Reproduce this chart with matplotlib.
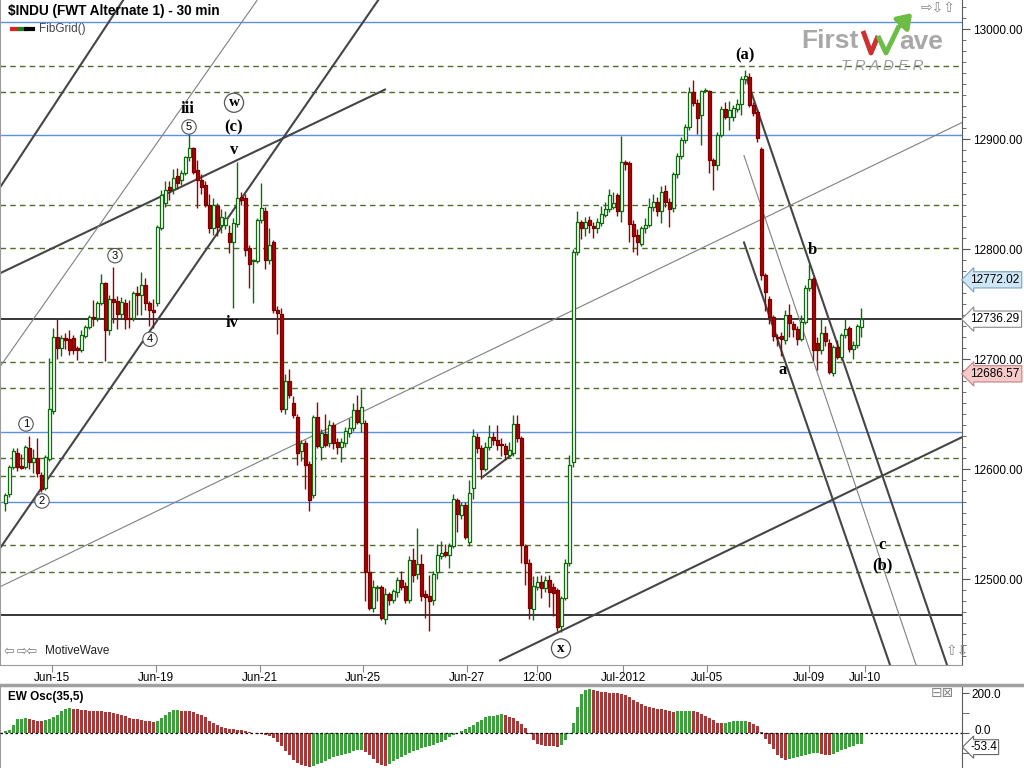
import matplotlib
matplotlib.use("Agg")
import matplotlib.pyplot as plt
from matplotlib.collections import LineCollection, PatchCollection
from matplotlib.patches import Rectangle
from matplotlib.ticker import MultipleLocator

# ---------------- data ----------------
opens = [12569, 12577, 12602, 12615, 12603, 12602, 12619, 12606, 12610, 12595,
         12583, 12609, 12653, 12720, 12710, 12719, 12718, 12719, 12710, 12708,
         12721, 12729, 12738, 12737, 12751, 12769, 12726, 12755, 12753, 12741,
         12751, 12737, 12737, 12760, 12758, 12767, 12751, 12745, 12751, 12819,
         12842, 12856, 12855, 12866, 12863, 12869, 12884, 12892, 12872, 12863,
         12858, 12840, 12819, 12839, 12822, 12822, 12815, 12806, 12823, 12847,
         12846, 12801, 12789, 12789, 12826, 12835, 12790, 12806, 12745, 12741,
         12655, 12680, 12660, 12647, 12616, 12624, 12605, 12576, 12647, 12620,
         12632, 12624, 12640, 12625, 12620, 12624, 12633, 12637, 12654, 12642,
         12642, 12506, 12474, 12492, 12493, 12464, 12486, 12481, 12488, 12499,
         12494, 12481, 12517, 12505, 12514, 12486, 12485, 12481, 12506, 12521,
         12525, 12522, 12530, 12572, 12558, 12567, 12534, 12583, 12629, 12619,
         12600, 12620, 12629, 12626, 12623, 12621, 12613, 12615, 12641, 12628,
         12530, 12515, 12473, 12493, 12497, 12492, 12499, 12493, 12490, 12457,
         12483, 12515, 12606, 12797, 12825, 12819, 12826, 12821, 12819, 12824,
         12831, 12836, 12838, 12849, 12835, 12879, 12878, 12823, 12813, 12805,
         12819, 12822, 12838, 12843, 12835, 12853, 12843, 12837, 12868, 12885,
         12899, 12911, 12943, 12933, 12922, 12944, 12944, 12881, 12876, 12904,
         12927, 12920, 12920, 12927, 12932, 12955, 12956, 12931, 12925, 12891,
         12776, 12755, 12738, 12720, 12721, 12717, 12740, 12732, 12727, 12718,
         12734, 12765, 12773, 12715, 12708, 12724, 12715, 12687, 12711, 12702,
         12722, 12728, 12709, 12713, 12729]
highs = [12578, 12604, 12619, 12619, 12614, 12622, 12630, 12618, 12628, 12597,
         12613, 12701, 12728, 12736, 12722, 12724, 12726, 12722, 12712, 12726,
         12731, 12740, 12754, 12753, 12777, 12770, 12758, 12784, 12757, 12756,
         12755, 12754, 12762, 12766, 12779, 12774, 12753, 12755, 12822, 12854,
         12862, 12862, 12873, 12874, 12872, 12885, 12905, 12893, 12881, 12868,
         12862, 12850, 12846, 12842, 12836, 12835, 12822, 12828, 12879, 12852,
         12850, 12804, 12791, 12828, 12860, 12838, 12819, 12808, 12748, 12746,
         12686, 12691, 12666, 12650, 12626, 12626, 12607, 12649, 12661, 12636,
         12650, 12645, 12643, 12628, 12628, 12638, 12646, 12660, 12667, 12673,
         12645, 12523, 12499, 12495, 12495, 12492, 12488, 12491, 12502, 12507,
         12497, 12521, 12528, 12546, 12523, 12490, 12504, 12507, 12532, 12535,
         12532, 12533, 12577, 12574, 12570, 12570, 12590, 12636, 12633, 12622,
         12625, 12640, 12634, 12640, 12628, 12624, 12625, 12649, 12649, 12630,
         12532, 12518, 12503, 12503, 12504, 12503, 12504, 12496, 12492, 12485,
         12518, 12613, 12800, 12835, 12826, 12829, 12830, 12825, 12828, 12839,
         12843, 12855, 12852, 12851, 12903, 12881, 12880, 12826, 12818, 12821,
         12828, 12846, 12850, 12847, 12857, 12858, 12846, 12870, 12887, 12902,
         12914, 12947, 12954, 12936, 12945, 12946, 12945, 12883, 12906, 12930,
         12934, 12935, 12931, 12936, 12957, 12963, 12960, 12934, 12927, 12893,
         12778, 12757, 12740, 12723, 12725, 12745, 12750, 12735, 12730, 12740,
         12767, 12786, 12775, 12720, 12737, 12730, 12718, 12713, 12717, 12724,
         12737, 12730, 12716, 12732, 12746]
lows = [12562, 12575, 12600, 12598, 12600, 12600, 12600, 12596, 12593, 12579,
        12581, 12607, 12650, 12700, 12703, 12709, 12704, 12705, 12699, 12706,
        12719, 12727, 12730, 12735, 12749, 12698, 12722, 12733, 12727, 12736,
        12727, 12728, 12735, 12740, 12740, 12745, 12730, 12728, 12748, 12817,
        12838, 12845, 12850, 12855, 12858, 12867, 12880, 12868, 12837, 12850,
        12838, 12815, 12813, 12812, 12815, 12818, 12796, 12746, 12820, 12840,
        12794, 12765, 12751, 12787, 12824, 12782, 12786, 12742, 12723, 12652,
        12650, 12665, 12646, 12604, 12607, 12582, 12562, 12574, 12619, 12608,
        12620, 12620, 12618, 12614, 12606, 12620, 12629, 12635, 12641, 12634,
        12480, 12472, 12470, 12480, 12463, 12459, 12476, 12478, 12484, 12490,
        12478, 12478, 12497, 12500, 12480, 12465, 12453, 12476, 12500, 12518,
        12520, 12510, 12528, 12543, 12555, 12536, 12530, 12573, 12615, 12591,
        12598, 12617, 12622, 12617, 12612, 12608, 12610, 12612, 12625, 12515,
        12495, 12464, 12463, 12490, 12483, 12488, 12475, 12466, 12453, 12452,
        12481, 12512, 12602, 12795, 12809, 12812, 12815, 12810, 12815, 12821,
        12829, 12834, 12836, 12830, 12825, 12872, 12806, 12797, 12795, 12803,
        12815, 12820, 12835, 12830, 12824, 12838, 12820, 12834, 12865, 12882,
        12896, 12908, 12930, 12905, 12895, 12943, 12869, 12854, 12872, 12902,
        12918, 12908, 12916, 12925, 12922, 12950, 12929, 12921, 12897, 12772,
        12744, 12732, 12716, 12712, 12703, 12714, 12720, 12720, 12713, 12716,
        12732, 12762, 12698, 12690, 12705, 12712, 12686, 12685, 12700, 12699,
        12719, 12706, 12700, 12710, 12720]
closes = [12576, 12602, 12616, 12602, 12601, 12620, 12606, 12610, 12596, 12582,
          12611, 12655, 12720, 12710, 12719, 12717, 12708, 12708, 12708, 12722,
          12729, 12738, 12737, 12751, 12769, 12726, 12755, 12752, 12741, 12752,
          12736, 12736, 12760, 12758, 12767, 12751, 12745, 12743, 12820, 12849,
          12854, 12854, 12865, 12860, 12869, 12884, 12892, 12870, 12863, 12856,
          12840, 12819, 12840, 12820, 12829, 12828, 12806, 12824, 12846, 12845,
          12799, 12786, 12790, 12826, 12837, 12790, 12804, 12745, 12742, 12655,
          12680, 12667, 12649, 12615, 12624, 12604, 12572, 12647, 12621, 12633,
          12622, 12640, 12624, 12620, 12625, 12635, 12637, 12654, 12643, 12656,
          12506, 12474, 12493, 12493, 12465, 12486, 12481, 12489, 12499, 12493,
          12481, 12517, 12504, 12514, 12485, 12484, 12480, 12505, 12522, 12524,
          12522, 12530, 12573, 12559, 12567, 12538, 12578, 12630, 12619, 12600,
          12620, 12629, 12626, 12622, 12622, 12614, 12617, 12641, 12628, 12531,
          12515, 12474, 12494, 12497, 12492, 12499, 12488, 12487, 12456, 12483,
          12515, 12604, 12797, 12825, 12819, 12825, 12822, 12819, 12825, 12832,
          12836, 12849, 12842, 12835, 12879, 12877, 12823, 12812, 12806, 12819,
          12822, 12838, 12843, 12835, 12852, 12843, 12836, 12868, 12885, 12899,
          12911, 12943, 12933, 12919, 12944, 12945, 12881, 12876, 12904, 12927,
          12920, 12926, 12928, 12932, 12955, 12957, 12931, 12924, 12901, 12776,
          12761, 12738, 12721, 12719, 12718, 12740, 12733, 12727, 12718, 12734,
          12765, 12773, 12708, 12708, 12724, 12716, 12688, 12711, 12702, 12722,
          12727, 12709, 12713, 12730, 12736]

# EW oscillator (35,5)
osc = [8, 17, 42, 68, 72, 74, 70, 65, 62, 61,
       64, 68, 80, 92, 110, 120, 125, 121, 118, 114,
       113, 112, 111, 110, 109, 107, 104, 100, 97, 90,
       83, 77, 72, 69, 67, 62, 58, 57, 62, 75,
       90, 105, 113, 114, 112, 111, 109, 105, 97, 88,
       80, 62, 50, 40, 32, 26, 21, 18, 16, 14,
       11, 7, 2, -3, -7, -10, -13, -25, -45, -67,
       -90, -110, -135, -148, -158, -165, -168, -163, -157, -148,
       -140, -130, -118, -113, -108, -103, -98, -92, -87, -83,
       -95, -110, -130, -148, -160, -164, -153, -140, -130, -118,
       -108, -100, -92, -85, -76, -70, -66, -58, -52, -43,
       -33, -22, -8, 0, 8, 20, 30, 42, 55, 65,
       78, 84, 87, 91, 93, 88, 82, 75, 60, 45,
       25, -5, -35, -55, -60, -63, -66, -67, -68, -58,
       -33, -5, 50, 130, 195, 215, 220, 216, 210, 207,
       204, 202, 201, 200, 197, 188, 178, 167, 155, 145,
       135, 130, 125, 122, 120, 116, 112, 107, 108, 109,
       110, 112, 110, 103, 95, 86, 75, 65, 52, 50,
       52, 56, 58, 60, 61, 62, 55, 45, 33, 5,
       -30, -55, -82, -110, -125, -134, -130, -126, -121, -116,
       -111, -105, -101, -100, -104, -108, -110, -103, -95, -86,
       -78, -70, -63, -57, -53.4]

date_ticks = [11.75, 37.75, 63.75, 89.5, 115.5, 133, 154.5, 175.5, 201, 215]
date_labels = ["Jun-15", "Jun-19", "Jun-21", "Jun-25", "Jun-27", "12:00",
               "Jul-2012", "Jul-05", "Jul-09", "Jul-10"]

blue_levels = [13006, 12904, 12634, 12570]
fib_levels = [12966, 12943, 12840, 12801, 12697, 12674, 12610, 12594, 12531, 12506]
black_levels = [12736.29, 12467]

# trend lines as (bar, price, bar, price)
thick_lines = [(-1.25, 12856, 29.5, 13026),
               (-1.25, 12778, 95, 12945),
               (-1.25, 12528, 93.25, 13026),
               (123.75, 12426, 239.25, 12629),
               (119.5, 12593, 127, 12614),
               (185.5, 12954, 235.5, 12422),
               (184.75, 12806, 221.25, 12422)]
thin_lines = [(-1.25, 12693, 63, 13026),
              (-1.25, 12493, 239.25, 12915),
              (184.75, 12885, 227.75, 12422)]

wave_text = [("iii", 45.75, 12927), ("(c)", 57.25, 12911), ("v", 57.25, 12890),
             ("iv", 56.75, 12733), ("(a)", 185, 12976), ("b", 201.75, 12799),
             ("a", 194.5, 12690), ("c", 219.25, 12531), ("(b)", 219.25, 12512)]
circled_small = [("1", 5.25, 12641), ("2", 9.25, 12571), ("3", 27.5, 12794),
                 ("4", 36.25, 12718), ("5", 46, 12911)]
circled_big = [("w", 57.25, 12933), ("x", 139, 12437)]

price_tags = [(12772.02, "#cfe6f6", "#7c9fb8"), (12736.29, "white", "#888888"),
              (12686.57, "#f7caca", "#c08080")]
osc_tag = -53.4

# ---------------- figure ----------------
W, H = 1024, 768
fig = plt.figure(figsize=(W / 100, H / 100), dpi=100)
fig.patch.set_facecolor("white")
sans = "Liberation Sans"
serif = "Liberation Serif"

ax = fig.add_axes([0, 1 - 665 / H, 962 / W, 665 / H])
oax = fig.add_axes([0, 0, 962 / W, 82 / H])
top = fig.add_axes([0, 0, 1, 1], zorder=10)
top.set_xlim(0, W)
top.set_ylim(H, 0)
top.axis("off")
top.patch.set_alpha(0)

xlim = (-1.25, 239.25)
ax.set_xlim(*xlim)
ax.set_ylim(12421.9, 13026.4)

# horizontal fib grid
for lv in blue_levels:
    ax.axhline(lv, color="#5b8fe8", lw=1, zorder=1)
for lv in fib_levels:
    ax.axhline(lv, color="#4f6b28", lw=1, ls=(0, (4, 3)), zorder=1)
for lv in black_levels:
    ax.axhline(lv, color="black", lw=1.1, zorder=1)

# trend lines
for x0, y0, x1, y1 in thick_lines:
    ax.plot([x0, x1], [y0, y1], color="#454545", lw=1.5, zorder=2)
for x0, y0, x1, y1 in thin_lines:
    ax.plot([x0, x1], [y0, y1], color="#808080", lw=0.8, zorder=2)

# candles
up_col, dn_col = "#0b6e0b", "#9e0000"
wicks, wick_cols, bodies, body_fc, body_ec = [], [], [], [], []
bw = 0.75
for i in range(len(closes)):
    o, h, l, c = opens[i], highs[i], lows[i], closes[i]
    top_b, bot_b = max(o, c), min(o, c)
    up = c >= o
    col = up_col if up else dn_col
    wicks.append([(i, top_b), (i, h)])
    wicks.append([(i, l), (i, bot_b)])
    wick_cols += [col, col]
    bodies.append(Rectangle((i - bw / 2, bot_b), bw, max(top_b - bot_b, 0.8)))
    body_fc.append("white" if up else "#b30000")
    body_ec.append(col if up else "#7a0000")
ax.add_collection(LineCollection(wicks, colors=wick_cols, linewidths=1.0, zorder=3))
ax.add_collection(PatchCollection(bodies, facecolors=body_fc, edgecolors=body_ec,
                                  linewidths=0.9, zorder=4))

# wave labels
for t, x, y in wave_text:
    ax.text(x, y, t, family=serif, weight="bold", fontsize=12, ha="center",
            va="center", zorder=6)
for t, x, y in circled_small:
    ax.text(x, y, t, family=sans, fontsize=8, ha="center", va="center", zorder=6,
            bbox=dict(boxstyle="circle,pad=0.2", fc="white", ec="#555555", lw=0.8))
for t, x, y in circled_big:
    ax.text(x, y, t, family=serif, weight="bold", fontsize=11, ha="center",
            va="center", zorder=6,
            bbox=dict(boxstyle="circle,pad=0.2", fc="white", ec="#555555", lw=0.9))

# axes styling
ax.yaxis.tick_right()
ax.set_yticks(range(12500, 13001, 100))
ax.set_yticklabels([f"{v:.2f}" for v in range(12500, 13001, 100)])
ax.yaxis.set_minor_locator(MultipleLocator(10))
ax.tick_params(axis="y", which="major", direction="out", length=6, pad=2,
               labelsize=8.5, color="#555555")
ax.tick_params(axis="y", which="minor", direction="out", length=3, color="#555555")
ax.set_xticks(date_ticks)
ax.set_xticklabels(date_labels)
ax.tick_params(axis="x", direction="out", length=5, pad=0, labelsize=8.5,
               color="#888888")
for lab in ax.get_xticklabels() + ax.get_yticklabels():
    lab.set_family(sans)
ax.spines["top"].set_visible(False)
ax.spines["left"].set_color("#9a9a9a")
ax.spines["bottom"].set_color("#9a9a9a")
ax.spines["right"].set_color("#5a5a5a")

for val, fc, ec in price_tags:
    ax.annotate(f"{val:.2f}", xy=(1, val), xycoords=("axes fraction", "data"),
                xytext=(6, 0), textcoords="offset points", va="center", ha="left",
                fontsize=8.5, family=sans, annotation_clip=False, zorder=8,
                bbox=dict(boxstyle="larrow,pad=0.18", fc=fc, ec=ec, lw=0.8))

# oscillator
oax.set_xlim(*xlim)
oax.set_ylim(-175, 235)
ocols = ["#3f9f3f" if (i == 0 or osc[i] >= osc[i - 1]) else "#a63a3a"
         for i in range(len(osc))]
oax.bar(range(len(osc)), osc, width=0.75, color=ocols, linewidth=0, zorder=2)
oax.axhline(0, color="black", lw=0.9, ls=(0, (2, 2)), zorder=3)
oax.yaxis.tick_right()
oax.set_yticks([0, 200])
oax.set_yticklabels(["", "200.0"])
oax.set_yticks([-100, 100], minor=True)
oax.tick_params(axis="y", which="both", direction="out", length=5, pad=2,
                labelsize=8.5, color="#555555")
oax.set_xticks([])
for lab in oax.get_yticklabels():
    lab.set_family(sans)
oax.annotate("0.0", xy=(1, 0), xycoords=("axes fraction", "data"),
             xytext=(9, 1.5), textcoords="offset points", va="center", ha="left",
             fontsize=8.5, family=sans, annotation_clip=False)
oax.spines["top"].set_visible(False)
oax.spines["bottom"].set_visible(False)
oax.spines["left"].set_color("#9a9a9a")
oax.spines["right"].set_color("#5a5a5a")
oax.annotate(f"{osc_tag:.1f}", xy=(1, osc_tag), xycoords=("axes fraction", "data"),
             xytext=(6, -2.5), textcoords="offset points", va="center", ha="left",
             fontsize=8.5, family=sans, annotation_clip=False, zorder=8,
             bbox=dict(boxstyle="larrow,pad=0.12", fc="white", ec="#666666", lw=0.8))

# separator between panes
top.plot([0, W], [684.5, 684.5], color="#a0a0a0", lw=2.5)

# texts / decorations
top.text(8, 11, r"\$INDU (FWT Alternate 1) - 30 min", family=sans, weight="bold",
         fontsize=9.8, va="center", ha="left")
top.plot([12, 19], [29, 29], color="#e02020", lw=3)
top.plot([19, 26], [29, 29], color="#208020", lw=3)
top.plot([26, 33], [29, 29], color="black", lw=3)
top.text(39, 29, "FibGrid()", family=sans, fontsize=8.5, color="#444444", va="center")
top.text(4, 651, "\u21e6", family="DejaVu Sans", fontsize=9, color="#777777",
         va="center")
top.text(17, 651, "\u21e8\u21e6", family="DejaVu Sans", fontsize=9,
         color="#777777", va="center")
top.text(45, 651, "MotiveWave", family=sans, fontsize=8.5, color="#222222",
         va="center")
top.text(921, 8, "\u21e8\u21e9\u21e7", family="DejaVu Sans", fontsize=10,
         color="#888888", va="center")
top.text(946, 651, "\u21e7\u21e9", family="DejaVu Sans", fontsize=10,
         color="#888888", va="center")
top.text(8, 697, "EW Osc(35,5)", family=sans, weight="bold", fontsize=8.5,
         va="center")
top.text(931, 693, "\u229f\u22a0", family="DejaVu Sans", fontsize=10,
         color="#888888", va="center")

# FirstWave logo
top.text(801, 41, "First", family=sans, weight="bold", fontsize=19,
         color="#a8a8a8", va="center", ha="left")
top.plot([863, 871, 878], [31, 53, 36], color="#cc3030", lw=3.5,
         solid_capstyle="butt")
top.plot([878, 886, 899], [36, 53, 26], color="#6cbd45", lw=3.5,
         solid_capstyle="butt")
top.annotate("", xy=(914, 11), xytext=(898, 28),
             arrowprops=dict(arrowstyle="-|>,head_width=0.55,head_length=0.8",
                             color="#6cbd45", lw=3.5))
top.text(899, 42, "ave", family=sans, weight="bold", fontsize=19,
         color="#a8a8a8", va="center", ha="left")
top.text(882, 66, "T R A D E R", family=sans, style="italic", fontsize=11,
         color="#9a9a9a", va="center", ha="center")

fig.savefig("out.png", dpi=100, facecolor="white")
